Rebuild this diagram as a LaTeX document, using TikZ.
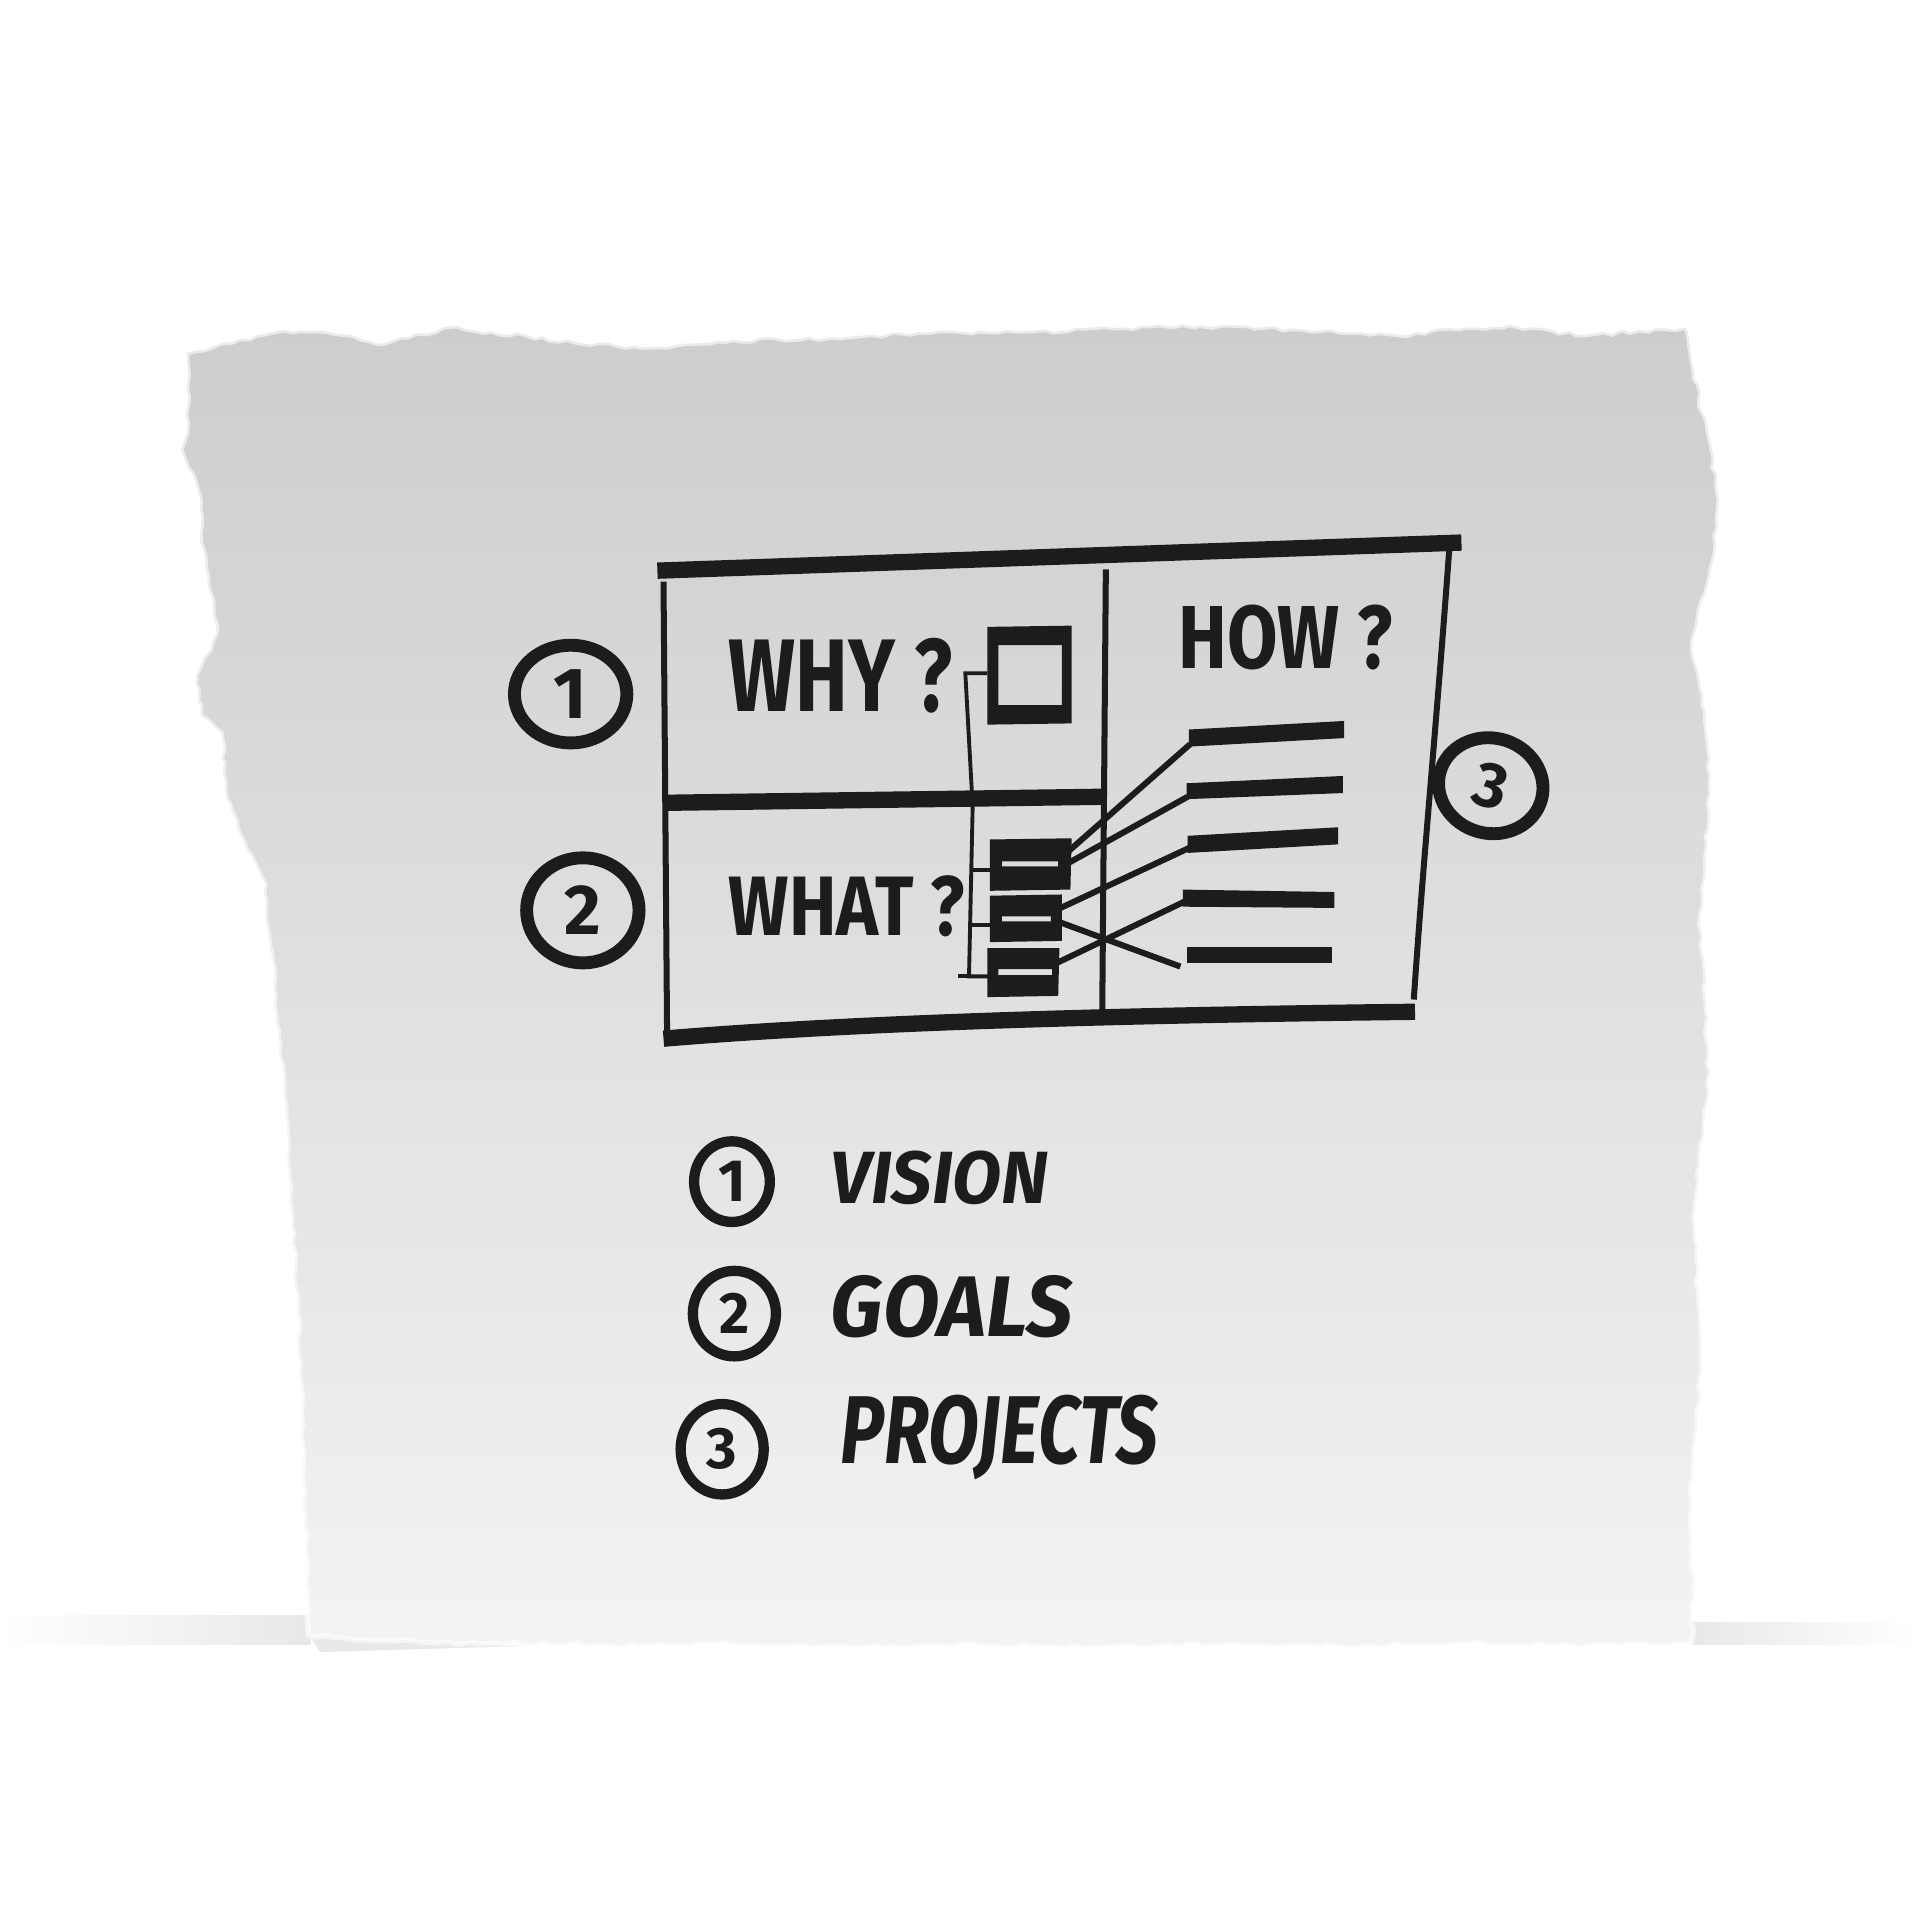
\documentclass[tikz,border=0pt]{standalone}
\usepackage{fontspec}
\usepackage{graphicx}
\newfontfamily\hand{Fira Sans}
\usetikzlibrary{decorations.pathmorphing,shapes.geometric}
\definecolor{ink}{RGB}{28,28,28}
\definecolor{papertop}{RGB}{205,205,205}
\definecolor{paperbot}{RGB}{243,243,243}
\definecolor{shadowc}{RGB}{232,232,232}
\newcommand\hw[3]{\resizebox{#1mm}{#2mm}{\hand\bfseries #3}}
\newcommand\hwi[3]{\resizebox{#1mm}{#2mm}{\hand\bfseries\itshape #3}}
\newcommand\hd[2]{\resizebox{!}{#1mm}{\hand\bfseries #2}}
\begin{document}
\begin{tikzpicture}[x=0.1mm,y=-0.1mm,
  bar/.style={draw=ink,line width=3.8pt},
  frameline/.style={draw=ink,line width=1.4pt},
  ring/.style={draw=ink,line width=3pt,ellipse,inner sep=0pt,text=ink},
  smallring/.style={draw=ink,line width=2.4pt,ellipse,inner sep=0pt,text=ink},
  hair/.style={draw=ink,line width=0.9pt},
  conn/.style={draw=ink,line width=1.4pt},
  lbl/.style={inner sep=0pt,text=ink}
]
\useasboundingbox (0,0) rectangle (1568,1568);
\fill[white] (0,0) rectangle (1568,1568);
% shadows on the surface
\shade[left color=white, right color=shadowc] (0,1322) rectangle (254,1346);
\shade[left color=shadowc, right color=white] (1383,1328) rectangle (1568,1346);
\fill[gray!45,opacity=0.4] (252,1336) -- (430,1347) -- (262,1352) -- cycle;
% paper
\pgfmathsetseed{7}
\shadedraw[top color=papertop, bottom color=paperbot, draw=white, draw opacity=0.6, line width=1.2pt,
  decorate, decoration={random steps,segment length=2pt,amplitude=0.45pt}]
 (153,289) -- (190,280) -- (232,270) -- (275,273) -- (314,281) -- (368,267) -- (395,272) -- (430,274)
 -- (477,281) -- (532,284) -- (600,278) -- (680,276) -- (760,272) -- (840,271) -- (920,268) -- (1000,266)
 -- (1060,269) -- (1100,272) -- (1145,274) -- (1200,268) -- (1241,267) -- (1298,274) -- (1341,270) -- (1380,268)
 -- (1391,327) -- (1401,368) -- (1407,409) -- (1404,450) -- (1393,491) -- (1385,532) -- (1391,556) -- (1397,600)
 -- (1400,650) -- (1396,700) -- (1392,760) -- (1396,820) -- (1399,880) -- (1392,940) -- (1387,1000) -- (1390,1060)
 -- (1393,1120) -- (1387,1180) -- (1383,1240) -- (1386,1300) -- (1384,1345)
 -- (1300,1347) -- (1200,1345) -- (1100,1348) -- (1000,1346) -- (900,1348) -- (800,1346) -- (700,1348)
 -- (600,1346) -- (500,1347) -- (400,1345) -- (300,1342) -- (252,1338)
 -- (250,1270) -- (248,1200) -- (246,1130) -- (243,1060) -- (238,990) -- (235,920) -- (228,850) -- (222,780)
 -- (215,720) -- (200,690) -- (185,654) -- (181,600) -- (164,586) -- (160,559) -- (164,545) -- (177,518)
 -- (174,491) -- (168,463) -- (164,436) -- (164,409) -- (158,389) -- (148,368) -- (153,354) -- cycle;

% frame
\draw[bar] (538,467) -- (1196,444);
\draw[frameline] (543,476) -- (546,856);
\draw[bar] (543,657) -- (905,652);
\draw[frameline] (905,466) -- (902,834);
\draw[frameline] (1186,450) .. controls (1175,600) and (1165,700) .. (1157,818);
\draw[bar] (543,850) .. controls (700,837) and (900,831) .. (1158,828);

% labels
\node[lbl] (why) at (688,553) {\hw{18.3}{6.0}{WHY ?}};
\node[lbl] (how) at (1052,522) {\hw{17.5}{5.2}{HOW ?}};
\node[lbl] (what) at (693,742) {\hw{19.3}{4.9}{WHAT ?}};

% circled numbers
\node[ring, minimum width=9.2mm, minimum height=8.0mm] (c1) at (467,568) {\hd{4.0}{1}};
\node[ring, minimum width=9.2mm, minimum height=8.6mm] (c2) at (477,745) {\hd{4.0}{2}};
\node[ring, minimum width=8.6mm, minimum height=7.8mm, rotate=-15] (c3) at (1220,643) {\hd{3.6}{3}};

% square (vision)
\fill[ink,even odd rule] (808,513) -- (877,512) -- (877,592) -- (808,593) -- cycle (817,528) rectangle (869,577);
\coordinate (sq) at (808,551);

% stacked goal blocks
\fill[ink,even odd rule] (810,687) -- (877,686) -- (876,728) -- (810,729) -- cycle (820,705) rectangle (866,709);
\fill[ink,even odd rule] (810,733) -- (869,732) -- (869,770) -- (810,771) -- cycle (820,750) rectangle (860,754);
\fill[ink,even odd rule] (808,776) -- (867,776) -- (866,815) -- (808,816) -- cycle (817,793) rectangle (861,798);
\coordinate (g1) at (812,712);
\coordinate (g2) at (812,757);
\coordinate (g3) at (810,799);

% bracket
\coordinate (bt) at (790,551);
\coordinate (bm) at (796,660);
\coordinate (bb) at (793,799);
\draw[hair] (sq) -- (bt) -- (bm) -- (bb) -- (g3);
\draw[hair] (bb) -- (784,799);
\draw[hair] (795,712) -- (g1);
\draw[hair] (795,757) -- (g2);

% project bars
\fill[ink] (973,597) -- (1100,590) -- (1100,604) -- (973,611) -- cycle;
\fill[ink] (971,641) -- (1099,635) -- (1099,649) -- (971,654) -- cycle;
\fill[ink] (972,684) -- (1095,677) -- (1095,691) -- (972,698) -- cycle;
\fill[ink] (968,728) -- (1092,730) -- (1092,743) -- (968,742) -- cycle;
\fill[ink] (971,775) -- (1090,775) -- (1090,788) -- (971,788) -- cycle;
\coordinate (h1) at (974,609);
\coordinate (h2) at (972,652);
\coordinate (h3) at (973,694);
\coordinate (h4) at (969,738);
\coordinate (h5) at (966,791);
\coordinate (s1) at (874,697);
\coordinate (s2) at (873,707);
\coordinate (s3) at (868,743);
\coordinate (s4) at (868,755);
\coordinate (s5) at (865,788);
\draw[conn] (s1) -- (h1);
\draw[conn] (s2) -- (h2);
\draw[conn] (s3) -- (h3);
\draw[conn] (s4) -- (h5);
\draw[conn] (s5) -- (h4);

% legend
\node[smallring, minimum width=6.2mm, minimum height=6.6mm] (l1) at (599,967) {\hd{3.3}{1}};
\node[smallring, minimum width=6.8mm, minimum height=7.0mm] (l2) at (601,1075) {\hd{3.3}{2}};
\node[smallring, minimum width=6.8mm, minimum height=7.4mm] (l3) at (591,1186) {\hd{3.3}{3}};
\node[lbl] (vision) at (769,964) {\hwi{17.8}{4.3}{VISION}};
\node[lbl] (goals) at (779,1069) {\hwi{19.8}{5.0}{GOALS}};
\node[lbl] (projects) at (818,1176) {\hwi{26.0}{5.6}{PROJECTS}};
\end{tikzpicture}
\end{document}
